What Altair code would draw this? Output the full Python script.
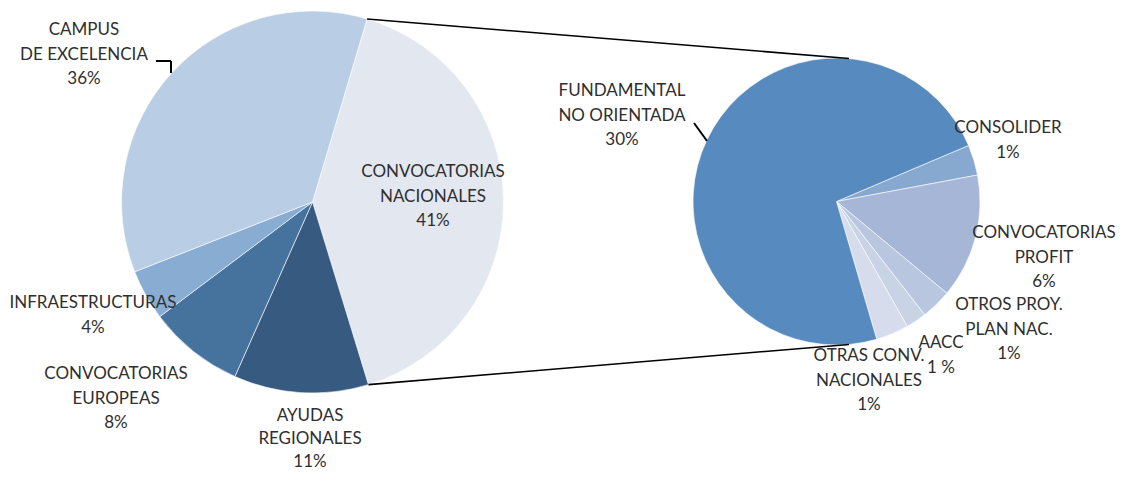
import math
import altair as alt
import pandas as pd

# ---------------- data ----------------
left_names = ["CONVOCATORIAS\nNACIONALES", "AYUDAS\nREGIONALES", "CONVOCATORIAS\nEUROPEAS",
              "INFRAESTRUCTURAS", "CAMPUS\nDE EXCELENCIA"]
left_values = [40.7, 11.4, 8.1, 4.3, 35.6]
left_pcts = ["41%", "11%", "8%", "4%", "36%"]

right_names = ["CONSOLIDER", "CONVOCATORIAS\nPROFIT", "OTROS PROY.\nPLAN NAC.", "AACC",
               "OTRAS CONV.\nNACIONALES", "FUNDAMENTAL\nNO ORIENTADA"]
right_values = [1.4, 5.7, 1.4, 0.95, 1.5, 29.8]
right_pcts = ["1%", "6%", "1%", "1 %", "1%", "30%"]

# ---------------- styles / layout ----------------
left_colors = ["#e3e7f0", "#365a80", "#46739e", "#88acd2", "#b9cde4"]
right_colors = ["#88a9cf", "#a5b6d6", "#b8c6e0", "#c8d3e6", "#d6dcec", "#578bbf"]

M = 8  # page margin
L_CX, L_CY, L_R, L_START = 312.5 - M, 202 - M, 191, 16.6
R_CX, R_CY, R_R, R_START = 836.5 - M, 201.5 - M, 143.5, 67.0

FONT = "Lato"
FSIZE = 17
TCOLOR = "#2f2f2f"

# label anchor (page coords: centre x, first-line y, line spacing)
left_label_pos = [(433, 172, 24.5), (310, 416, 23), (116, 374, 24.5), (93, 303, 24.5), (84, 30, 24.5)]
right_label_pos = [(1008, 128, 24.5), (1044, 233, 24.5), (1009, 305, 24.5), (941, 343, 24.5),
                   (869, 356, 24.5), (622, 91, 24.5)]


def pie(names, values, colors, cx, cy, r, start_deg):
    df = pd.DataFrame({"cat": names, "value": values, "ord": list(range(len(names)))})
    s = math.radians(start_deg)
    return alt.Chart(df).mark_arc(outerRadius=r, stroke="white", strokeWidth=0.6).encode(
        theta=alt.Theta("value:Q", stack=True,
                        scale=alt.Scale(range=[s, s + 2 * math.pi])),
        color=alt.Color("cat:N", scale=alt.Scale(domain=names, range=colors), legend=None),
        order=alt.Order("ord:Q"),
        x=alt.value(cx),
        y=alt.value(cy),
    )


def labels(names, pcts, positions):
    rows = []
    for name, pct, (px, py, sp) in zip(names, pcts, positions):
        lines = name.split("\n") + [pct]
        for i, ln in enumerate(lines):
            rows.append({"t": ln, "px": px - M, "py": py - M + i * sp})
    df = pd.DataFrame(rows)
    return alt.Chart(df).mark_text(font=FONT, fontSize=FSIZE, color=TCOLOR,
                                   align="center", baseline="middle").encode(
        x=alt.X("px:Q", scale=None, axis=None),
        y=alt.Y("py:Q", scale=None, axis=None),
        text="t:N",
    )


def seg(x1, y1, x2, y2, w=1.6):
    return alt.Chart(pd.DataFrame({"a": [0]})).mark_rule(color="black", strokeWidth=w).encode(
        x=alt.value(x1), y=alt.value(y1), x2=alt.value(x2), y2=alt.value(y2))


def pt(cx, cy, r, deg):
    a = math.radians(deg)
    return cx + r * math.sin(a), cy - r * math.cos(a)


# connector lines: from edges of the exploded slice to the secondary pie
end_deg = L_START + left_values[0] / sum(left_values) * 360
lt = pt(L_CX, L_CY, L_R, L_START)
lb = pt(L_CX, L_CY, L_R, end_deg)
rt = pt(R_CX, R_CY, R_R, 5)
rb = pt(R_CX, R_CY, R_R, 175)

layers = [
    pie(left_names, left_values, left_colors, L_CX, L_CY, L_R, L_START),
    pie(right_names, right_values, right_colors, R_CX, R_CY, R_R, R_START),
    seg(lt[0], lt[1], rt[0], rt[1]),
    seg(lb[0], lb[1], rb[0], rb[1]),
    # leader lines
    seg(156 - M, 61 - M, 171 - M, 61 - M, 2),
    seg(171 - M, 61 - M, 171 - M, 73 - M, 2),
    seg(694 - M, 123 - M, 707 - M, 141 - M, 2),
    labels(left_names, left_pcts, left_label_pos),
    labels(right_names, right_pcts, right_label_pos),
]

chart = alt.layer(*layers).resolve_scale(
    theta="independent", color="independent"
).properties(
    width=1108, height=462, padding=0, autosize="none"
).configure_view(stroke=None)

chart.save("out.html", embed_options={"renderer": "svg", "actions": False})
